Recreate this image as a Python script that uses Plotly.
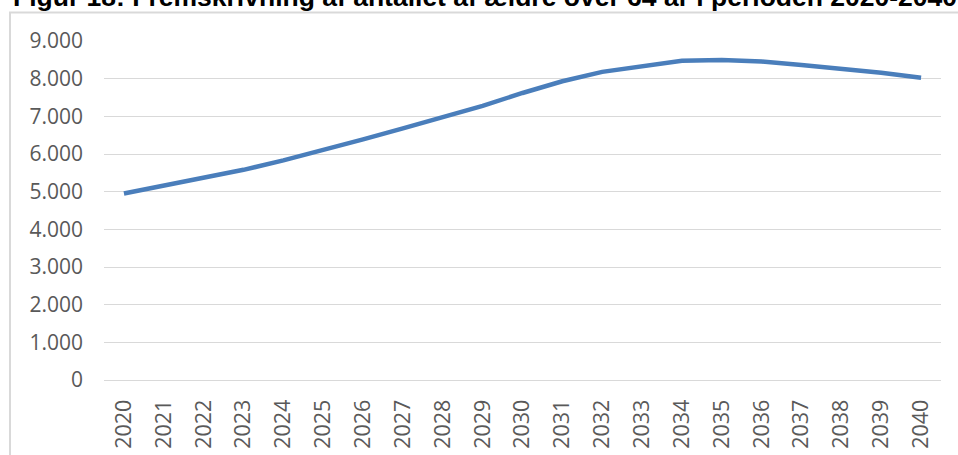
import plotly.graph_objects as go

years = [str(y) for y in range(2020, 2041)]
aeldre = [4950, 5150, 5360, 5580, 5830, 6100, 6390, 6680, 6970, 7280, 7620,
          7930, 8180, 8320, 8475, 8495, 8455, 8365, 8265, 8155, 8025]
y_ticks = [0, 1000, 2000, 3000, 4000, 5000, 6000, 7000, 8000, 9000]
y_labels = ['0', '1.000', '2.000', '3.000', '4.000', '5.000', '6.000', '7.000', '8.000', '9.000']

title_text = 'Figur 18: Fremskrivning af antallet af ældre over 64 år i perioden 2020-2040'

fig = go.Figure()

fig.add_trace(go.Scatter(
    x=years,
    y=aeldre,
    mode='lines',
    line=dict(color='#4a7ebb', width=4.5),
    showlegend=False
))

grey_text = '#595959'
grid_col = '#d9d9d9'

fig.update_layout(
    width=958,
    height=455,
    margin=dict(l=104, r=17, t=41, b=75, autoexpand=False),
    plot_bgcolor='white',
    paper_bgcolor='white',
    font=dict(family='Open Sans', size=21, color=grey_text),
)

fig.update_yaxes(
    range=[0, 9000],
    tickvals=y_ticks,
    ticktext=y_labels,
    showgrid=True,
    gridcolor=grid_col,
    gridwidth=1,
    zeroline=False,
    showline=False,
    automargin=False,
    ticklabelstandoff=20,
    tickfont=dict(size=21, color=grey_text),
)

fig.update_xaxes(
    type='category',
    range=[-0.5, len(years) - 0.5],
    showgrid=False,
    showline=True,
    linecolor=grid_col,
    linewidth=1,
    tickangle=-90,
    ticks='',
    automargin=False,
    ticklabelstandoff=10,
    tickfont=dict(size=21.5, color=grey_text),
)

# outer chart frame (top/left edges visible, rest falls outside the window)
fig.add_shape(type='rect', xref='paper', yref='paper',
              x0=(10 - 104) / 837, x1=(975 - 104) / 837,
              y0=(380 - 475) / 339, y1=1 + (41 - 12.5) / 339,
              line=dict(color=grid_col, width=2), fillcolor='rgba(0,0,0,0)')

# figure caption, partly cut off at the top as in the source
fig.add_annotation(
    text=title_text,
    xref='paper', yref='paper',
    x=(11 - 104) / 837, y=1 + (41 - 14) / 339,
    xanchor='left', yanchor='bottom',
    showarrow=False,
    font=dict(family='Liberation Sans', size=26.5, color='black', weight='bold'),
)

fig.write_html('out.html', config={'displayModeBar': False},
               post_script="document.body.style.margin='0';")
